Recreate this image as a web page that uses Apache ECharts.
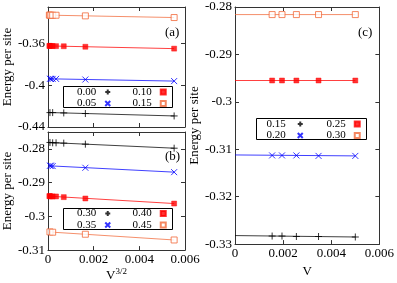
<!DOCTYPE html>
<html>
<head>
<meta charset="utf-8">
<script src="https://cdn.jsdelivr.net/npm/echarts@6/dist/echarts.min.js"></script>
<style>html,body{margin:0;padding:0;background:#fff}#c{width:397px;height:283px}</style>
</head>
<body>
<div id="c"></div>
<script>
// ---------- Data ----------
// x tick labels (shared)
const xTicks = [0, 0.002, 0.004, 0.006];

// Panel (a): x = V^{3/2}
const a00_x = [0.0000863, 0.000205, 0.000691, 0.001637, 0.005524];
const a00_y = [-0.4262, -0.4262, -0.4265, -0.4271, -0.4294];
const a05_x = [0.0000863, 0.000129, 0.000205, 0.000354, 0.001637, 0.005524];
const a05_y = [-0.3938, -0.3939, -0.3939, -0.3939, -0.3945, -0.3960];
const a10_x = [0.0000606, 0.0000863, 0.000129, 0.000205, 0.000354, 0.000691, 0.001637, 0.005524];
const a10_y = [-0.3623, -0.3623, -0.3624, -0.3624, -0.3625, -0.3626, -0.3631, -0.3649];
const a15_x = [0.0000606, 0.0000863, 0.000129, 0.000205, 0.000354, 0.001637, 0.005524];
const a15_y = [-0.3328, -0.3328, -0.3329, -0.3329, -0.3329, -0.3335, -0.3351];
// linear fits (x from 0 to last point)
const fitAB_x = [0, 0.005524];
const a00_fit = [-0.4261, -0.4294];
const a05_fit = [-0.3938, -0.3960];
const a10_fit = [-0.3623, -0.3649];
const a15_fit = [-0.3328, -0.3351];

// Panel (b): x = V^{3/2}
const b30_x = [0.0000863, 0.000205, 0.000354, 0.000691, 0.001637, 0.005524];
const b30_y = [-0.2781, -0.2782, -0.2782, -0.2783, -0.2786, -0.2798];
const b35_x = [0.0000863, 0.000129, 0.000205, 0.001637, 0.005524];
const b35_y = [-0.2850, -0.2850, -0.2851, -0.2856, -0.2869];
const b40_x = [0.0000606, 0.0000863, 0.000129, 0.000205, 0.000354, 0.000691, 0.001637, 0.005524];
const b40_y = [-0.2940, -0.2940, -0.2941, -0.2941, -0.2941, -0.2943, -0.2947, -0.2962];
const b45_x = [0.0000863, 0.000205, 0.001637, 0.005524];
const b45_y = [-0.3046, -0.3047, -0.3053, -0.3070];
const b30_fit = [-0.2781, -0.2798];
const b35_fit = [-0.2850, -0.2869];
const b40_fit = [-0.2940, -0.2962];
const b45_fit = [-0.3046, -0.3070];

// Panel (c): x = V
const c_x = [0.001543, 0.001953, 0.002551, 0.003472, 0.005];
const c15_y = [-0.3283, -0.3283, -0.3284, -0.3284, -0.3285];
const c20_y = [-0.3113, -0.3113, -0.3113, -0.3114, -0.3114];
const c25_y = [-0.2955, -0.2955, -0.2955, -0.2955, -0.2955];
const c30_y = [-0.2816, -0.2816, -0.2816, -0.2816, -0.2816];
const fitC_x = [0, 0.005];
const c15_fit = [-0.3282, -0.3285];
const c20_fit = [-0.3112, -0.3114];
const c25_fit = [-0.2955, -0.2955];
const c30_fit = [-0.2816, -0.2816];

// ---------- Styles ----------
const FONT = "'Liberation Serif','Times New Roman',serif";
const FRAME = '#333';
const BLACK = '#000000', BLUE = '#0000ff', RED = '#ff0000', ORANGE = '#f2693a';
const STY = {
  plus:   {symbol: 'path://M0,5L10,5M5,0L5,10', size: 7, item: {color: BLACK, borderColor: BLACK, borderWidth: 1}},
  cross:  {symbol: 'path://M0,0L10,10M10,0L0,10', size: 6, item: {color: BLUE, borderColor: BLUE, borderWidth: 1}},
  fsq:    {symbol: 'rect', size: 5, item: {color: RED, borderColor: RED, borderWidth: 0.5}},
  osq:    {symbol: 'rect', size: 6, item: {color: '#fff', borderColor: ORANGE, borderWidth: 1}}
};

function zip(xs, ys) { return xs.map((x, i) => [x, ys[i]]); }
function pts(name, xs, ys, ai, st) {
  return {name: name, type: 'scatter', xAxisIndex: ai, yAxisIndex: ai,
    symbol: st.symbol, symbolSize: st.size, itemStyle: st.item, z: 3,
    data: zip(xs, ys)};
}
function fit(xs, ys, ai, color) {
  return {type: 'line', xAxisIndex: ai, yAxisIndex: ai, showSymbol: false, silent: true,
    lineStyle: {color: color, width: 1, opacity: 0.75}, z: 2, data: zip(xs, ys)};
}

function xAxis(grid, pos, showLabel, name, rich) {
  return {type: 'value', gridIndex: grid, position: pos, min: xTicks[0], max: xTicks[xTicks.length - 1],
    interval: xTicks[1] - xTicks[0],
    axisLine: {show: true, onZero: false, lineStyle: {color: FRAME, width: 1}},
    axisTick: {show: true, inside: true, length: 4, lineStyle: {color: FRAME}},
    axisLabel: {show: showLabel, margin: 3, fontSize: 13, fontFamily: FONT, color: '#000'},
    splitLine: {show: false},
    name: name || '', nameLocation: 'middle', nameGap: 16,
    nameTextStyle: {fontSize: 13, fontFamily: FONT, color: '#000', rich: rich || {}}};
}
function yAxis(grid, pos, showLabel, min, max, interval, name) {
  return {type: 'value', gridIndex: grid, position: pos, min: min, max: max, interval: interval,
    axisLine: {show: true, onZero: false, lineStyle: {color: FRAME, width: 1}},
    axisTick: {show: true, inside: true, length: 4, lineStyle: {color: FRAME}},
    axisLabel: {show: showLabel, margin: 3, fontSize: 13, fontFamily: FONT, color: '#000', showMaxLabel: false},
    splitLine: {show: false},
    name: name || '', nameLocation: 'middle', nameGap: 27,
    nameTextStyle: {fontSize: 13, fontFamily: FONT, color: '#000'}};
}
function yAxisC(grid, pos, showLabel, name) {
  const a = yAxis(grid, pos, showLabel, -0.33, -0.28, 0.01, name);
  a.axisLabel.showMaxLabel = true;
  return a;
}

const supRich = {v: {fontSize: 13, fontFamily: FONT, color: '#000'},
                 s: {fontSize: 9, fontFamily: FONT, color: '#000', padding: [0, 0, 8, 0]}};

function legend(names, left, top, padRight) {
  return {data: names, orient: 'vertical', align: 'right', left: left, top: top, padding: 0,
    itemWidth: 5, itemHeight: 5, itemGap: 0.5, selectedMode: false,
    formatter: n => n.split('|')[0],
    textStyle: {fontSize: 11, fontFamily: FONT, color: '#000', lineHeight: 10, padding: [0, padRight, 0, 0]}};
}

const option = {
  animation: false,
  backgroundColor: '#fff',
  grid: [
    {left: 41, top: 7, width: 144, height: 120},
    {left: 41, top: 132, width: 144, height: 122},
    {left: 235, top: 7, width: 146, height: 247}
  ],
  xAxis: [
    xAxis(0, 'bottom', false), xAxis(0, 'top', false),
    xAxis(1, 'bottom', true, '{v|V}{s|3/2}', supRich), xAxis(1, 'top', false),
    xAxis(2, 'bottom', true, 'V'), xAxis(2, 'top', false)
  ],
  yAxis: [
    yAxis(0, 'left', true, -0.44, -0.325, 0.04, 'Energy per site'), yAxis(0, 'right', false, -0.44, -0.325, 0.04),
    yAxis(1, 'left', true, -0.31, -0.275, 0.01, 'Energy per site'), yAxis(1, 'right', false, -0.31, -0.275, 0.01),
    yAxisC(2, 'left', true, 'Energy per site'), yAxisC(2, 'right', false)
  ],
  legend: [
    legend(['0.00|a', '0.05|a'], 77, 86.5, 4),
    legend(['0.10|a', '0.15|a'], 132.5, 86.5, 4),
    legend(['0.30|b', '0.35|b'], 77, 208, 4),
    legend(['0.40|b', '0.45|b'], 132.5, 208, 4),
    legend(['0.15|c', '0.20|c'], 266.5, 118.5, 7),
    legend(['0.25|c', '0.30|c'], 326.5, 118.5, 4)
  ],
  graphic: [
    {type: 'rect', shape: {x: 63.5, y: 86.5, width: 109, height: 21}, style: {fill: 'none', stroke: '#000', lineWidth: 1}, z: 10},
    {type: 'rect', shape: {x: 63.5, y: 208.5, width: 109, height: 21}, style: {fill: 'none', stroke: '#000', lineWidth: 1}, z: 10},
    {type: 'rect', shape: {x: 256.5, y: 118.5, width: 110, height: 21}, style: {fill: 'none', stroke: '#000', lineWidth: 1}, z: 10},
    {type: 'text', left: 165, top: 26, style: {text: '(a)', font: "13px 'Liberation Serif', serif", fill: '#000'}},
    {type: 'text', left: 165, top: 150, style: {text: '(b)', font: "13px 'Liberation Serif', serif", fill: '#000'}},
    {type: 'text', left: 358, top: 26, style: {text: '(c)', font: "13px 'Liberation Serif', serif", fill: '#000'}}
  ],
  series: [
    fit(fitAB_x, a00_fit, 0, BLACK), fit(fitAB_x, a05_fit, 0, BLUE), fit(fitAB_x, a10_fit, 0, RED), fit(fitAB_x, a15_fit, 0, ORANGE),
    pts('0.00|a', a00_x, a00_y, 0, STY.plus), pts('0.05|a', a05_x, a05_y, 0, STY.cross),
    pts('0.10|a', a10_x, a10_y, 0, STY.fsq), pts('0.15|a', a15_x, a15_y, 0, STY.osq),

    fit(fitAB_x, b30_fit, 2, BLACK), fit(fitAB_x, b35_fit, 2, BLUE), fit(fitAB_x, b40_fit, 2, RED), fit(fitAB_x, b45_fit, 2, ORANGE),
    pts('0.30|b', b30_x, b30_y, 2, STY.plus), pts('0.35|b', b35_x, b35_y, 2, STY.cross),
    pts('0.40|b', b40_x, b40_y, 2, STY.fsq), pts('0.45|b', b45_x, b45_y, 2, STY.osq),

    fit(fitC_x, c15_fit, 4, BLACK), fit(fitC_x, c20_fit, 4, BLUE), fit(fitC_x, c25_fit, 4, RED), fit(fitC_x, c30_fit, 4, ORANGE),
    pts('0.15|c', c_x, c15_y, 4, STY.plus), pts('0.20|c', c_x, c20_y, 4, STY.cross),
    pts('0.25|c', c_x, c25_y, 4, STY.fsq), pts('0.30|c', c_x, c30_y, 4, STY.osq)
  ]
};

const chart = echarts.init(document.getElementById('c'), null, {renderer: 'canvas'});
chart.setOption(option);
</script>
</body>
</html>
